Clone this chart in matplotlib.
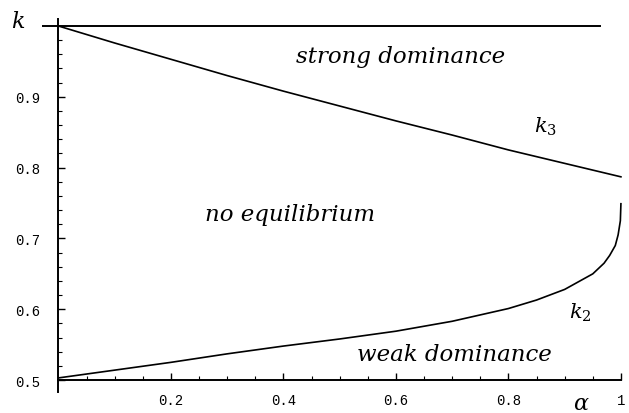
import numpy as np
import matplotlib
matplotlib.use("Agg")
import matplotlib.pyplot as plt

# k3 curve (upper boundary of "no equilibrium")
alpha_k3 = [0.0, 0.05, 0.1, 0.2, 0.3, 0.4, 0.5, 0.6, 0.7, 0.8, 0.9, 1.0]
k3 = [1.0, 0.988, 0.976, 0.953, 0.930, 0.908, 0.887, 0.866, 0.846, 0.825, 0.806, 0.787]

# k2 curve (lower boundary)
alpha_k2 = [0.0, 0.1, 0.2, 0.3, 0.4, 0.5, 0.6, 0.7, 0.8, 0.85, 0.9, 0.95,
            0.97, 0.98, 0.99, 0.995, 0.999, 1.0]
k2 = [0.503, 0.514, 0.525, 0.537, 0.548, 0.558, 0.569, 0.583, 0.601, 0.613,
      0.628, 0.650, 0.665, 0.676, 0.690, 0.705, 0.725, 0.749]

# k = 1 line
alpha_top = [-0.03, 0.963]
k_top = [1.0, 1.0]

x_ticks = [0.2, 0.4, 0.6, 0.8, 1.0]
x_tick_labels = ["0.2", "0.4", "0.6", "0.8", "1"]
y_ticks = [0.5, 0.6, 0.7, 0.8, 0.9]
y_tick_labels = ["0.5", "0.6", "0.7", "0.8", "0.9"]

plt.rcParams['mathtext.fontset'] = 'dejavuserif'

fig = plt.figure(figsize=(6.29, 4.14), dpi=100)
ax = fig.add_axes([0.0661, 0.0454, 0.930, 0.915])
ax.set_xlim(-0.03, 1.01)
ax.set_ylim(0.48, 1.015)

ax.plot(alpha_top, k_top, color='black', linewidth=1.4)
ax.plot(alpha_k3, k3, color='black', linewidth=1.2)
ax.plot(alpha_k2, k2, color='black', linewidth=1.2)

for s in ['top', 'right']:
    ax.spines[s].set_visible(False)
ax.spines['left'].set_position(('data', 0))
ax.spines['bottom'].set_position(('data', 0.5))
ax.spines['left'].set_bounds(0.483, 1.01)
ax.spines['bottom'].set_bounds(0.0, 1.0)
ax.spines['left'].set_linewidth(1.4)
ax.spines['bottom'].set_linewidth(1.4)

tick_font = dict(family='Liberation Mono', size=10)
ax.set_xticks(x_ticks)
ax.set_xticklabels(x_tick_labels, fontdict=tick_font)
ax.set_yticks(y_ticks)
ax.set_yticklabels(y_tick_labels, fontdict=tick_font)
ax.set_xticks(np.arange(0.05, 1.0, 0.05), minor=True)
ax.set_yticks(np.arange(0.52, 1.0, 0.02), minor=True)
ax.tick_params(which='major', direction='in', length=5, width=1.0)
ax.tick_params(which='minor', direction='in', length=3, width=0.8)
ax.tick_params(axis='y', which='major', pad=13)
ax.tick_params(axis='x', which='major', pad=9)

txt = dict(family='DejaVu Serif', style='italic', fontsize=16.5,
           ha='center', va='center')
ax.text(0.609, 0.958, 'strong dominance', **txt)
ax.text(0.412, 0.734, 'no equilibrium', **txt)
ax.text(0.704, 0.537, 'weak dominance', **txt)
ax.text(0.865, 0.859, r'$k_3$', fontsize=15, ha='center', va='center')
ax.text(0.927, 0.596, r'$k_2$', fontsize=15, ha='center', va='center')
ax.text(-0.072, 1.008, r'$k$', fontsize=16, ha='center', va='center', clip_on=False)
ax.text(0.929, 0.468, r'$\alpha$', fontsize=16, ha='center', va='center', clip_on=False)

fig.savefig('out.png', dpi=100)
